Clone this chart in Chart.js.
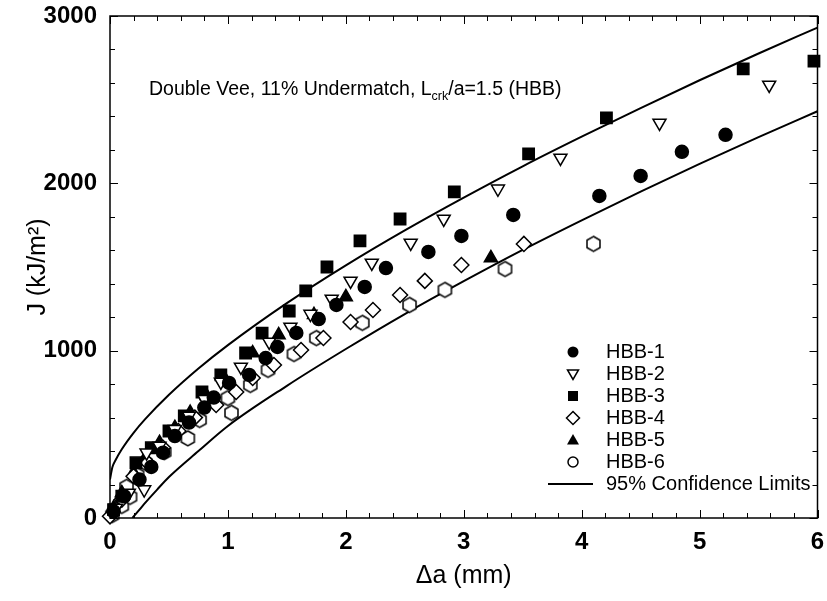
<!DOCTYPE html>
<html>
<head>
<meta charset="utf-8">
<title>J-R curves HBB</title>
<script src="https://cdn.jsdelivr.net/npm/chart.js@4.4.0/dist/chart.umd.min.js"></script>
<style>
  html, body { margin: 0; padding: 0; background: #fff; }
  #wrap { width: 827px; height: 601px; }
</style>
</head>
<body>
<div id="wrap"><canvas id="chart" width="827" height="601"></canvas></div>
<script>
// Datos: [delta a (mm), J (kJ/m2)]
const hbb1 = [[0.03, 40], [0.12, 130], [0.25, 230], [0.35, 305], [0.45, 390], [0.55, 490], [0.67, 570],
  [0.8, 660], [0.88, 720], [1.01, 807], [1.18, 855], [1.32, 956], [1.42, 1022], [1.58, 1106], [1.77, 1189],
  [1.92, 1273], [2.16, 1381], [2.34, 1494], [2.70, 1590], [2.98, 1686], [3.42, 1811], [4.15, 1925],
  [4.50, 2044], [4.85, 2188], [5.22, 2290]];
const hbb2 = [[0.05, 60], [0.16, 150], [0.29, 170], [0.31, 390], [0.42, 430], [0.55, 530], [0.67, 610],
  [0.8, 710], [0.94, 813], [1.11, 903], [1.35, 1052], [1.53, 1142], [1.70, 1219], [1.88, 1309], [2.04, 1417],
  [2.22, 1524], [2.55, 1644], [2.83, 1787], [3.29, 1967], [3.82, 2152], [4.66, 2361], [5.59, 2588]];
const hbb3 = [[0.03, 50], [0.1, 130], [0.22, 330], [0.35, 420], [0.5, 520], [0.63, 610], [0.78, 753],
  [0.94, 855], [1.15, 986], [1.29, 1105], [1.52, 1237], [1.66, 1357], [1.84, 1500], [2.12, 1656],
  [2.46, 1787], [2.92, 1949], [3.55, 2176], [4.21, 2391], [5.37, 2684], [5.97, 2730]];
const hbb4 = [[0, 10], [0.1, 110], [0.2, 250], [0.32, 330], [0.45, 420], [0.58, 520], [0.72, 600],
  [0.90, 675], [1.07, 753], [1.21, 837], [1.39, 914], [1.62, 1004], [1.81, 1076], [2.04, 1171],
  [2.23, 1243], [2.46, 1333], [2.67, 1417], [2.98, 1512], [3.51, 1638]];
const hbb5 = [[0.03, 60], [0.1, 150], [0.2, 270], [0.3, 360], [0.42, 450], [0.55, 540], [0.68, 630],
  [0.82, 730], [0.97, 837], [1.21, 986], [1.43, 1094], [1.73, 1214], [2.0, 1321], [3.23, 1554]];
const hbb6 = [[0.02, 18], [0.1, 72], [0.17, 126], [0.14, 186], [0.23, 257], [0.3, 330], [0.46, 394],
  [0.66, 476], [0.76, 586], [1.0, 717], [1.03, 628], [1.19, 795], [1.34, 885], [1.56, 980], [1.75, 1075],
  [2.14, 1166], [2.54, 1273], [2.84, 1363], [3.35, 1488], [4.10, 1638]];

// Limites de confianza 95%
const upperX = [0, 0.02, 0.05, 0.1, 0.2, 0.3, 0.5, 0.75, 1, 1.5, 2, 2.5, 3, 3.5, 4, 4.5, 5, 5.5, 6];
const upperJ = [230, 303, 350, 411, 509, 592, 736, 893, 1033, 1284, 1510, 1719, 1915, 2102, 2279, 2450, 2616, 2776, 2931];
const lowerX = [0.19, 0.25, 0.3, 0.4, 0.5, 0.75, 1, 1.5, 2, 2.5, 3, 3.5, 4, 4.5, 5, 5.5, 6];
const lowerJ = [0, 50, 92, 170, 245, 400, 550, 790, 1010, 1219, 1415, 1602, 1779, 1950, 2116, 2276, 2431];

const xTicks = [0, 1, 2, 3, 4, 5, 6];
const yTicks = [0, 1000, 2000, 3000];
const seriesNames = ['HBB-1', 'HBB-2', 'HBB-3', 'HBB-4', 'HBB-5', 'HBB-6'];
const limitName = '95% Confidence Limits';

const FONT = "'Liberation Sans', Arial, sans-serif";

function toXY(arr) { return arr.map(p => ({ x: p[0], y: p[1] })); }
function zipXY(xs, ys) { return xs.map((x, i) => ({ x: x, y: ys[i] })); }

// Hexagono abierto como pointStyle
function makeHex(r, lw) {
  const s = Math.ceil(2 * r + lw + 2);
  const c = document.createElement('canvas');
  c.width = s; c.height = s;
  const g = c.getContext('2d');
  g.beginPath();
  for (let i = 0; i < 6; i++) {
    const a = -Math.PI / 2 + i * Math.PI / 3;
    const px = s / 2 + r * Math.cos(a), py = s / 2 + r * Math.sin(a);
    if (i === 0) g.moveTo(px, py); else g.lineTo(px, py);
  }
  g.closePath();
  g.fillStyle = '#fff';
  g.fill();
  g.lineWidth = lw;
  g.strokeStyle = '#000';
  g.stroke();
  return c;
}
const hexIcon = makeHex(7.5, 1.5);

function pts(label, data, style, radius, filled, rotation) {
  return {
    type: 'scatter',
    label: label,
    data: toXY(data),
    pointStyle: style,
    pointRadius: radius,
    pointHoverRadius: radius,
    pointRotation: rotation || 0,
    backgroundColor: filled ? '#000' : '#fff',
    borderColor: '#000',
    borderWidth: 1.5,
    clip: false
  };
}
function limit(data) {
  return {
    type: 'line',
    label: limitName,
    data: data,
    borderColor: '#000',
    borderWidth: 2,
    pointRadius: 0,
    fill: false,
    cubicInterpolationMode: 'monotone'
  };
}

// Marco y marcas hacia dentro
const framePlugin = {
  id: 'frame',
  afterDatasetsDraw(chart) {
    const { ctx, chartArea: a, scales: { x, y } } = chart;
    ctx.save();
    ctx.strokeStyle = '#000';
    ctx.lineWidth = 1.5;
    ctx.strokeRect(a.left, a.top, a.right - a.left, a.bottom - a.top);
    ctx.lineWidth = 1;
    ctx.beginPath();
    for (let v = 0; v <= 6.001; v += 0.2) {
      const px = Math.round(x.getPixelForValue(v)) + 0.5;
      const len = Math.abs(v - Math.round(v)) < 0.01 ? 8 : 5;
      ctx.moveTo(px, a.bottom); ctx.lineTo(px, a.bottom - len);
      ctx.moveTo(px, a.top); ctx.lineTo(px, a.top + len);
    }
    for (let v = 0; v <= 3000; v += 200) {
      const py = Math.round(y.getPixelForValue(v)) + 0.5;
      const len = v % 1000 === 0 ? 8 : 5;
      ctx.moveTo(a.left, py); ctx.lineTo(a.left + len, py);
      ctx.moveTo(a.right, py); ctx.lineTo(a.right - len, py);
    }
    ctx.stroke();
    ctx.restore();
  }
};

// Leyenda y rotulo dentro del area
const notePlugin = {
  id: 'notes',
  afterDraw(chart) {
    const ctx = chart.ctx;
    ctx.save();
    ctx.fillStyle = '#000';
    ctx.textBaseline = 'alphabetic';
    ctx.font = '19.5px ' + FONT;
    let tx = 149, ty = 95;
    const p1 = 'Double Vee, 11% Undermatch, L';
    ctx.fillText(p1, tx, ty);
    tx += ctx.measureText(p1).width;
    ctx.font = '12.5px ' + FONT;
    ctx.fillText('crk', tx, ty + 5);
    tx += ctx.measureText('crk').width;
    ctx.font = '19.5px ' + FONT;
    ctx.fillText('/a=1.5 (HBB)', tx, ty);

    const sx = 573, lx = 606, y0 = 352, dy = 22;
    ctx.textBaseline = 'middle';
    seriesNames.forEach((name, i) => {
      const cy = y0 + i * dy;
      ctx.beginPath();
      ctx.lineWidth = 1.5;
      ctx.strokeStyle = '#000';
      if (i === 0) { ctx.arc(sx, cy, 5.5, 0, Math.PI * 2); ctx.fillStyle = '#000'; ctx.fill(); }
      if (i === 1) { ctx.moveTo(sx - 5.5, cy - 4); ctx.lineTo(sx + 5.5, cy - 4); ctx.lineTo(sx, cy + 5.5); ctx.closePath(); ctx.stroke(); }
      if (i === 2) { ctx.fillStyle = '#000'; ctx.fillRect(sx - 5, cy - 5, 10, 10); }
      if (i === 3) { ctx.moveTo(sx, cy - 6.5); ctx.lineTo(sx + 6.5, cy); ctx.lineTo(sx, cy + 6.5); ctx.lineTo(sx - 6.5, cy); ctx.closePath(); ctx.stroke(); }
      if (i === 4) { ctx.moveTo(sx, cy - 6); ctx.lineTo(sx + 6, cy + 4.5); ctx.lineTo(sx - 6, cy + 4.5); ctx.closePath(); ctx.fillStyle = '#000'; ctx.fill(); }
      if (i === 5) { ctx.arc(sx, cy, 5, 0, Math.PI * 2); ctx.stroke(); }
      ctx.fillStyle = '#000';
      ctx.font = '20px ' + FONT;
      ctx.fillText(name, lx, cy);
    });
    const cy = y0 + 6 * dy;
    ctx.beginPath();
    ctx.lineWidth = 2;
    ctx.moveTo(548, cy); ctx.lineTo(593, cy);
    ctx.stroke();
    ctx.fillText(limitName, lx, cy);
    ctx.restore();
  }
};

new Chart(document.getElementById('chart'), {
  data: {
    datasets: [
      pts(seriesNames[0], hbb1, 'circle', 6.5, true),
      pts(seriesNames[1], hbb2, 'triangle', 7.5, false, 180),
      pts(seriesNames[2], hbb3, 'rect', 8, true),
      pts(seriesNames[3], hbb4, 'rectRot', 7.5, false),
      pts(seriesNames[4], hbb5, 'triangle', 7.5, true),
      pts(seriesNames[5], hbb6, hexIcon, 7.5, false),
      limit(zipXY(upperX, upperJ)),
      limit(zipXY(lowerX, lowerJ))
    ]
  },
  options: {
    responsive: false,
    animation: false,
    events: [],
    layout: { padding: { top: 16, right: 5, left: 0, bottom: 0 } },
    plugins: { legend: { display: false }, tooltip: { enabled: false } },
    scales: {
      x: {
        type: 'linear', min: 0, max: 6,
        afterBuildTicks: s => { s.ticks = xTicks.map(v => ({ value: v })); },
        afterFit: s => { s.height = 83; s.paddingLeft = 0; s.paddingRight = 0; },
        grid: { display: false, drawTicks: false },
        border: { display: false },
        ticks: { padding: 10, color: '#000', callback: v => String(v), font: { family: FONT, size: 24, weight: 'bold' } },
        title: { display: true, text: 'Δa (mm)', color: '#000', padding: { bottom: 10 }, font: { family: FONT, size: 25 } }
      },
      y: {
        type: 'linear', min: 0, max: 3000,
        afterBuildTicks: s => { s.ticks = yTicks.map(v => ({ value: v })); },
        afterFit: s => { s.width = 110; s.paddingTop = 0; s.paddingBottom = 0; },
        grid: { display: false, drawTicks: false },
        border: { display: false },
        ticks: { padding: 13, color: '#000', callback: v => String(v), font: { family: FONT, size: 24, weight: 'bold' } },
        title: { display: true, text: 'J (kJ/m²)', color: '#000', padding: { top: 23 }, font: { family: FONT, size: 25 } }
      }
    }
  },
  plugins: [framePlugin, notePlugin]
});
</script>
</body>
</html>
